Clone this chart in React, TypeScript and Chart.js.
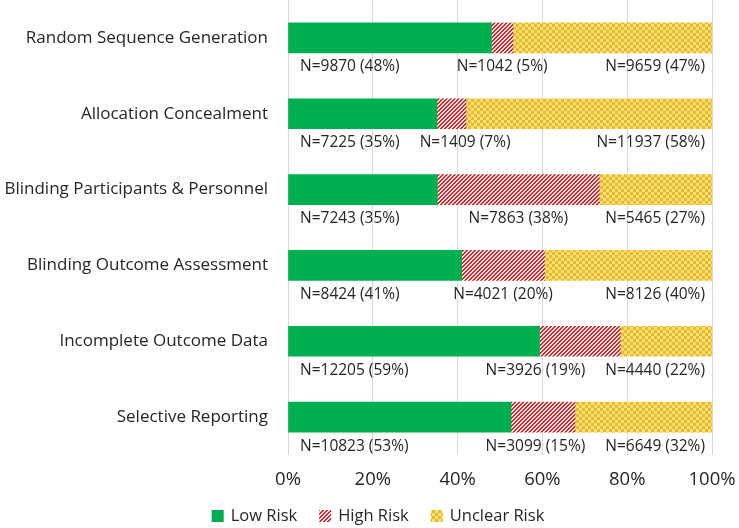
import React, { useEffect, useRef } from "react";
import { Chart, registerables } from "chart.js";

Chart.register(...registerables);

const categories = [
  "Random Sequence Generation",
  "Allocation Concealment",
  "Blinding Participants & Personnel",
  "Blinding Outcome Assessment",
  "Incomplete Outcome Data",
  "Selective Reporting",
];
const lowRisk = [9870, 7225, 7243, 8424, 12205, 10823];
const highRisk = [1042, 1409, 7863, 4021, 3926, 3099];
const unclearRisk = [9659, 11937, 5465, 8126, 4440, 6649];
const seriesNames = ["Low Risk", "High Risk", "Unclear Risk"];
const xTickValues = [0, 20, 40, 60, 80, 100];

const FONT = '"Open Sans", sans-serif';
const TEXT = "#262626";

function stripePattern(): CanvasPattern {
  const c = document.createElement("canvas");
  c.width = 4;
  c.height = 4;
  const g = c.getContext("2d")!;
  g.fillStyle = "#fbe3e3";
  g.fillRect(0, 0, 4, 4);
  g.fillStyle = "#cf2a30";
  for (let y = 0; y < 4; y++)
    for (let x = 0; x < 4; x++) if ((x + y) % 4 < 2) g.fillRect(x, y, 1, 1);
  return g.createPattern(c, "repeat")!;
}

function checkerPattern(): CanvasPattern {
  const c = document.createElement("canvas");
  c.width = 6;
  c.height = 6;
  const g = c.getContext("2d")!;
  g.fillStyle = "#f8e07a";
  g.fillRect(0, 0, 6, 6);
  g.fillStyle = "#ecba28";
  g.fillRect(0, 0, 3, 3);
  g.fillRect(3, 3, 3, 3);
  return g.createPattern(c, "repeat")!;
}

export default function App() {
  const ref = useRef<HTMLCanvasElement | null>(null);

  useEffect(() => {
    const canvas = ref.current!;
    const totals = categories.map((_, i) => lowRisk[i] + highRisk[i] + unclearRisk[i]);
    const counts = [lowRisk, highRisk, unclearRisk];
    const pct = counts.map((arr) => arr.map((v, i) => (v / totals[i]) * 100));

    const labelPlugin = {
      id: "nLabels",
      afterDatasetsDraw(chart: any) {
        const ctx = chart.ctx as CanvasRenderingContext2D;
        const xs = chart.scales.x;
        ctx.save();
        ctx.font = `15.5px ${FONT}`;
        ctx.fillStyle = TEXT;
        ctx.textBaseline = "middle";
        for (let i = 0; i < categories.length; i++) {
          const els = [0, 1, 2].map((d) => chart.getDatasetMeta(d).data[i]);
          const y = els[0].y + 29;
          const texts = counts.map(
            (arr, d) => `N=${arr[i]} (${Math.round(pct[d][i])}%)`
          );
          const w = texts.map((t) => ctx.measureText(t).width);
          const x1 = xs.left + 12;
          const x3 = xs.right - 7 - w[2];
          let c = (els[1].base + els[1].x) / 2;
          c = Math.max(c, x1 + w[0] + 20 + w[1] / 2);
          c = Math.min(c, x3 - 20 - w[1] / 2);
          ctx.textAlign = "left";
          ctx.fillText(texts[0], x1, y);
          ctx.fillText(texts[1], c - w[1] / 2, y);
          ctx.fillText(texts[2], x3, y);
        }
        ctx.restore();
      },
    };

    const legendPlugin = {
      id: "customLegend",
      afterDraw(chart: any) {
        const ctx = chart.ctx as CanvasRenderingContext2D;
        ctx.save();
        ctx.font = `16.5px ${FONT}`;
        ctx.textBaseline = "middle";
        const box = 12;
        const gapText = 7;
        const gapItem = 22;
        const items = chart.data.datasets.map((ds: any) => ({
          text: ds.label,
          fill: ds.backgroundColor,
          w: ctx.measureText(ds.label).width,
        }));
        const total =
          items.reduce((s: number, it: any) => s + box + gapText + it.w, 0) +
          gapItem * (items.length - 1);
        let x = 378 - total / 2;
        const y = 516;
        for (const it of items) {
          ctx.fillStyle = it.fill;
          ctx.fillRect(x, y - box / 2, box, box);
          ctx.fillStyle = TEXT;
          ctx.textAlign = "left";
          ctx.fillText(it.text, x + box + gapText, y);
          x += box + gapText + it.w + gapItem;
        }
        ctx.restore();
      },
    };

    const chart = new Chart(canvas, {
      type: "bar",
      data: {
        labels: categories,
        datasets: [
          {
            label: seriesNames[0],
            data: pct[0],
            backgroundColor: "#00b050",
            borderWidth: 0,
            barThickness: 30,
          },
          {
            label: seriesNames[1],
            data: pct[1],
            backgroundColor: stripePattern(),
            borderWidth: 0,
            barThickness: 30,
          },
          {
            label: seriesNames[2],
            data: pct[2],
            backgroundColor: checkerPattern(),
            borderWidth: 0,
            barThickness: 30,
          },
        ],
      },
      options: {
        indexAxis: "y",
        responsive: false,
        animation: false,
        layout: { padding: { left: 0, right: 27, top: 0, bottom: 42 } },
        scales: {
          x: {
            stacked: true,
            min: 0,
            max: 100,
            afterBuildTicks(scale: any) {
              scale.ticks = xTickValues.map((v) => ({ value: v }));
            },
            afterFit(scale: any) {
              scale.height = 31;
              scale.paddingLeft = 0;
              scale.paddingRight = 0;
            },
            grid: { color: "#d9d9d9", drawTicks: false },
            border: { display: false },
            ticks: {
              padding: 14,
              color: TEXT,
              font: { family: FONT, size: 18.5 },
              callback: (v: any) => `${v}%`,
              maxRotation: 0,
            },
          },
          y: {
            stacked: true,
            afterFit(scale: any) {
              scale.width = 288;
              scale.paddingTop = 0;
              scale.paddingBottom = 0;
            },
            grid: { display: false },
            border: { display: false },
            ticks: {
              padding: 12,
              color: TEXT,
              font: { family: FONT, size: 17 },
            },
          },
        },
        plugins: {
          tooltip: { enabled: false },
          legend: { display: false },
        },
      },
      plugins: [labelPlugin, legendPlugin],
    } as any);
    return () => chart.destroy();
  }, []);

  return (
    <div style={{ position: "fixed", left: 0, top: 0, width: 739, height: 528, background: "#fff" }}>
      <canvas ref={ref} width={739} height={528} />
    </div>
  );
}
